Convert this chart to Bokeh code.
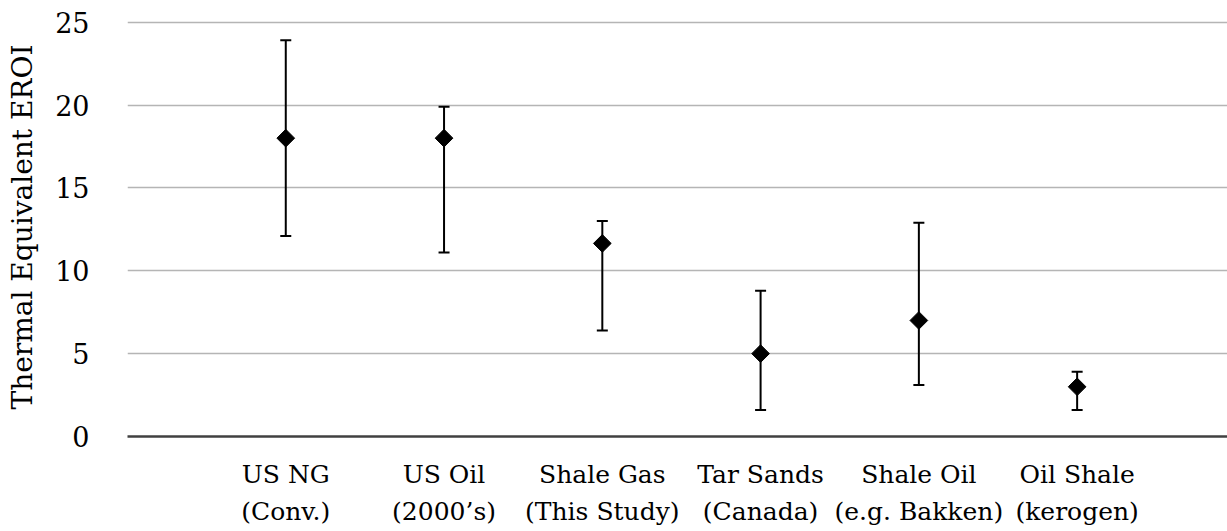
import numpy as np
from bokeh.plotting import figure
from bokeh.models import ColumnDataSource, Whisker, TeeHead, FixedTicker, Range1d
from bokeh.embed import file_html
from bokeh.resources import INLINE

categories = ["US NG\n(Conv.)", "US Oil\n(2000\u2019s)", "Shale Gas\n(This Study)",
              "Tar Sands\n(Canada)", "Shale Oil\n(e.g. Bakken)", "Oil Shale\n(kerogen)"]
eroi = [18.0, 18.0, 11.65, 5.0, 7.0, 3.0]
eroi_low = [12.1, 11.1, 6.4, 1.6, 3.1, 1.6]
eroi_high = [23.9, 19.9, 13.0, 8.8, 12.9, 3.9]
y_ticks = [0, 5, 10, 15, 20, 25]

xpos = list(range(1, len(categories) + 1))
src = ColumnDataSource(dict(x=xpos, y=eroi, lo=eroi_low, hi=eroi_high))

FONT = "DejaVu Serif"

p = figure(width=1227, height=531, output_backend="svg", toolbar_location=None,
           x_range=Range1d(0, 6.95), y_range=Range1d(0, 25.28),
           min_border_left=127, min_border_right=0, min_border_top=17, min_border_bottom=95)
p.outline_line_color = None
p.background_fill_color = "white"
p.border_fill_color = "white"

p.xgrid.grid_line_color = None
p.ygrid.grid_line_color = "#b5b5b5"
p.ygrid.grid_line_width = 1.5
p.ygrid.ticker = FixedTicker(ticks=y_ticks[1:])

# y axis
p.yaxis.ticker = FixedTicker(ticks=y_ticks)
p.yaxis.axis_line_color = None
p.yaxis.major_tick_line_color = None
p.yaxis.minor_tick_line_color = None
p.yaxis.major_label_text_font = FONT
p.yaxis.major_label_text_font_size = "27px"
p.yaxis.major_label_text_color = "black"
p.yaxis.major_label_standoff = 32
p.yaxis.axis_label = "Thermal Equivalent EROI"
p.yaxis.axis_label_text_font = FONT
p.yaxis.axis_label_text_font_size = "28px"
p.yaxis.axis_label_text_font_style = "normal"
p.yaxis.axis_label_text_color = "black"
p.yaxis.axis_label_standoff = 13

# x axis
p.xaxis.ticker = FixedTicker(ticks=xpos)
p.xaxis.major_label_overrides = {i: c for i, c in zip(xpos, categories)}
p.xaxis.axis_line_color = "#404040"
p.xaxis.axis_line_width = 2.5
p.xaxis.major_tick_line_color = None
p.xaxis.minor_tick_line_color = None
p.xaxis.major_label_text_font = FONT
p.xaxis.major_label_text_font_size = "25px"
p.xaxis.major_label_text_color = "black"
p.xaxis.major_label_standoff = 17
p.xaxis.major_label_text_line_height = 1.3

w = Whisker(base="x", upper="hi", lower="lo", source=src, dimension="height",
            line_color="black", line_width=2,
            upper_head=TeeHead(size=11, line_width=2, line_color="black"),
            lower_head=TeeHead(size=11, line_width=2, line_color="black"))
p.add_layout(w)

p.scatter("x", "y", source=src, marker="square", angle=np.pi / 4, size=12.5,
          fill_color="black", line_color="black")

open("out.html", "w").write(file_html(p, INLINE))
